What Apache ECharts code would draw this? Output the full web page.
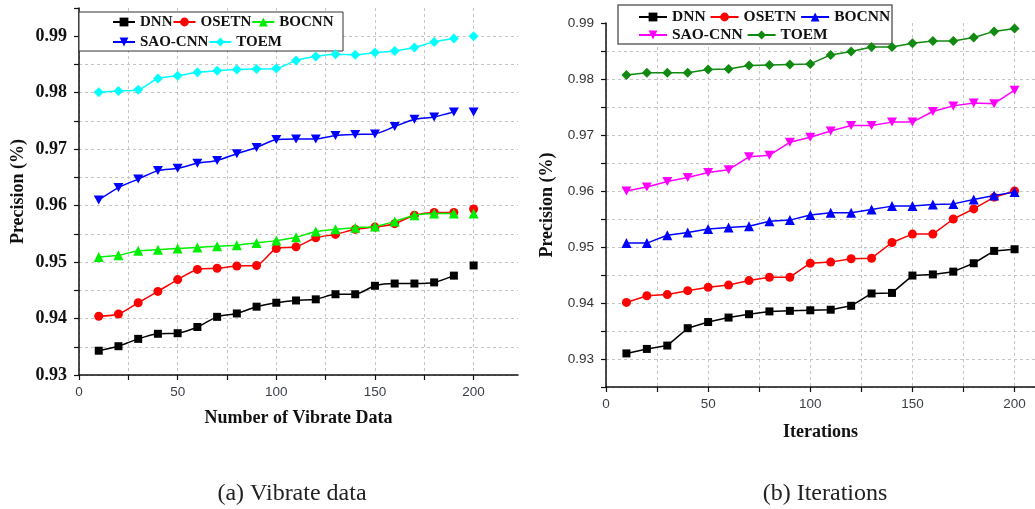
<!DOCTYPE html>
<html>
<head>
<meta charset="utf-8">
<script src="https://cdn.jsdelivr.net/npm/echarts@6/dist/echarts.min.js"></script>
<style>
  html, body { margin: 0; padding: 0; background: #fff; }
  #main { width: 1035px; height: 509px; }
</style>
</head>
<body>
<div id="main"></div>
<script>
const xVals = [10, 20, 30, 40, 50, 60, 70, 80, 90, 100, 110, 120, 130, 140, 150, 160, 170, 180, 190, 200];
const seriesNames = ["DNN", "OSETN", "BOCNN", "SAO-CNN", "TOEM"];
const yTickLabels = ["0.93", "0.94", "0.95", "0.96", "0.97", "0.98", "0.99"];

// (a) vibrate data
const dnnVib   = [0.9343, 0.9351, 0.9364, 0.9373, 0.9374, 0.9385, 0.9403, 0.9409, 0.9421, 0.9428, 0.9432, 0.9434, 0.9443, 0.9443, 0.9458, 0.9462, 0.9462, 0.9464, 0.9476, 0.9494];
const osetnVib = [0.9404, 0.9408, 0.9428, 0.9448, 0.9469, 0.9487, 0.9489, 0.9493, 0.9494, 0.9524, 0.9527, 0.9543, 0.9549, 0.9558, 0.9562, 0.9568, 0.9583, 0.9588, 0.9588, 0.9594];
const bocnnVib = [0.9509, 0.9512, 0.9520, 0.9522, 0.9524, 0.9526, 0.9528, 0.9530, 0.9534, 0.9538, 0.9544, 0.9554, 0.9558, 0.9561, 0.9563, 0.9572, 0.9583, 0.9586, 0.9586, 0.9586];
const saoVib   = [0.9610, 0.9632, 0.9647, 0.9662, 0.9666, 0.9675, 0.9680, 0.9692, 0.9703, 0.9717, 0.9718, 0.9718, 0.9724, 0.9726, 0.9727, 0.9740, 0.9753, 0.9757, 0.9766, 0.9766];
const toemVib  = [0.9801, 0.9803, 0.9805, 0.9825, 0.9830, 0.9836, 0.9839, 0.9841, 0.9842, 0.9843, 0.9857, 0.9864, 0.9868, 0.9867, 0.9871, 0.9874, 0.9880, 0.9890, 0.9896, 0.9900];

// (b) iterations
const dnnIter   = [0.9310, 0.9318, 0.9324, 0.9355, 0.9366, 0.9374, 0.9380, 0.9385, 0.9386, 0.9387, 0.9388, 0.9395, 0.9417, 0.9418, 0.9449, 0.9451, 0.9456, 0.9471, 0.9493, 0.9496];
const osetnIter = [0.9401, 0.9413, 0.9415, 0.9422, 0.9428, 0.9432, 0.9440, 0.9446, 0.9446, 0.9471, 0.9473, 0.9479, 0.9480, 0.9508, 0.9523, 0.9523, 0.9550, 0.9568, 0.9589, 0.9600];
const bocnnIter = [0.9507, 0.9507, 0.9521, 0.9526, 0.9532, 0.9535, 0.9537, 0.9546, 0.9548, 0.9557, 0.9561, 0.9561, 0.9567, 0.9573, 0.9573, 0.9576, 0.9577, 0.9585, 0.9592, 0.9598];
const saoIter   = [0.9600, 0.9607, 0.9617, 0.9624, 0.9633, 0.9638, 0.9661, 0.9664, 0.9687, 0.9696, 0.9707, 0.9717, 0.9717, 0.9723, 0.9723, 0.9742, 0.9752, 0.9757, 0.9756, 0.9780];
const toemIter  = [0.9807, 0.9811, 0.9811, 0.9811, 0.9817, 0.9818, 0.9824, 0.9825, 0.9826, 0.9827, 0.9843, 0.9849, 0.9857, 0.9857, 0.9864, 0.9868, 0.9868, 0.9874, 0.9885, 0.9890];

const SERIF = "'Liberation Serif', 'DejaVu Serif', serif";
const SANS = "'Liberation Sans', Arial, sans-serif";
const TRI_DOWN = "path://M0,0 L10,0 L5,9 Z";

const symbols = ["rect", "circle", "triangle", TRI_DOWN, "diamond"];
const sizes = [8, 9, 10, 10, 10];
const colorsA = ["#000000", "#ff0000", "#00ee00", "#0000ff", "#00ffff"];
const colorsB = ["#000000", "#ff0000", "#0000ff", "#ff00ff", "#108a10"];

// the 200 point of panel (a) is not joined to the rest of the line
function pairs(ys, splitLast) {
  const out = [];
  xVals.forEach((x, i) => {
    if (splitLast && i === xVals.length - 1) out.push([x - 5, null]);
    out.push([x, ys[i]]);
  });
  return out;
}

function yLabel(v) {
  const k = Math.round(v * 1000);
  if (k % 10 !== 0) return "";
  const s = (k / 1000).toFixed(2);
  return yTickLabels.includes(s) ? s : "";
}

function xLabel(v) {
  return (v % 50 === 0 && v <= 200) ? String(v) : "";
}

const gridLine = { show: true, showMaxLine: false, lineStyle: { color: "#c4c4c4", type: [3, 3], width: 1 } };

function xAxisFor(idx, max, name, nameGap) {
  return {
    type: "value", gridIndex: idx, min: 0, max: max, interval: 25,
    name: name, nameLocation: "middle", nameGap: nameGap,
    nameTextStyle: { fontFamily: SERIF, fontWeight: "bold", fontSize: 18, color: "#111" },
    axisLine: { show: true, onZero: false, lineStyle: { color: "#111", width: 1.5 } },
    axisTick: { show: true, inside: false, length: 5, lineStyle: { color: "#111", width: 1.2 } },
    axisLabel: { formatter: xLabel, showMaxLabel: false, margin: 10, fontFamily: SANS, fontSize: 13.5, color: "#3a3f4a" },
    splitLine: gridLine
  };
}

function yAxisFor(idx, min, max, nameGap, labelStyle) {
  return {
    type: "value", gridIndex: idx, min: min, max: max, interval: 0.005,
    name: "Precision (%)", nameLocation: "middle", nameGap: nameGap, nameRotate: 90,
    nameTextStyle: { fontFamily: SERIF, fontWeight: "bold", fontSize: 18, color: "#111" },
    axisLine: { show: true, onZero: false, lineStyle: { color: "#111", width: 1.5 } },
    axisTick: { show: true, inside: false, length: 5, lineStyle: { color: "#111", width: 1.2 } },
    axisLabel: Object.assign({ formatter: yLabel, showMaxLabel: true, margin: 12 }, labelStyle),
    splitLine: gridLine
  };
}

function makeSeries(dataSets, colors, idx, suffix, splitLast, smooth) {
  return dataSets.map((ys, i) => ({
    name: seriesNames[i] + suffix,
    type: "line",
    xAxisIndex: idx, yAxisIndex: idx,
    data: pairs(ys, splitLast),
    smooth: smooth,
    symbol: symbols[i], symbolSize: sizes[i], symbolKeepAspect: true,
    showAllSymbol: true,
    lineStyle: { color: colors[i], width: 1.5 },
    itemStyle: { color: colors[i] },
    z: 2 + i
  }));
}

function legendRow(names, left, top, itemWidth, itemGap, fontSize) {
  return {
    data: names, left: left, top: top, orient: "horizontal",
    padding: 0, itemGap: itemGap, itemWidth: itemWidth, itemHeight: 11,
    formatter: n => n.replace(" (b)", ""),
    textStyle: { fontFamily: SERIF, fontWeight: "bold", fontSize: fontSize, color: "#111", lineHeight: 16 },
    selectedMode: false, z: 6
  };
}

const chart = echarts.init(document.getElementById("main"), null, { renderer: "canvas" });

chart.setOption({
  backgroundColor: "#ffffff",
  animation: false,
  grid: [
    { left: 79, top: 8, width: 439, height: 367, containLabel: false },
    { left: 606, top: 23, width: 429, height: 364, containLabel: false }
  ],
  xAxis: [
    xAxisFor(0, 222.5, "Number of Vibrate Data", 34),
    xAxisFor(1, 210, "Iterations", 36)
  ],
  yAxis: [
    yAxisFor(0, 0.93, 0.995, 52, { fontFamily: SERIF, fontWeight: "bold", fontSize: 18, color: "#111" }),
    yAxisFor(1, 0.925, 0.99, 50, { fontFamily: SANS, fontSize: 13.5, color: "#333" })
  ],
  legend: [
    legendRow(["DNN", "OSETN", "BOCNN"], 112, 14, 22, 0, 15),
    legendRow(["SAO-CNN", "TOEM"], 112, 34, 22, 0, 15),
    legendRow(["DNN (b)", "OSETN (b)", "BOCNN (b)"], 638, 9, 28, 4, 15.5),
    legendRow(["SAO-CNN (b)", "TOEM (b)"], 638, 27, 28, 4, 15.5)
  ],
  graphic: [
    { type: "rect", z: 5, shape: { x: 79, y: 12, width: 264, height: 39 },
      style: { fill: "#fff", stroke: "#333", lineWidth: 1 } },
    { type: "rect", z: 5, shape: { x: 618, y: 5, width: 274, height: 39 },
      style: { fill: "#fff", stroke: "#666", lineWidth: 1.5 } },
    { type: "text", x: 292, y: 494, z: 5,
      style: { text: "(a) Vibrate data", fontFamily: SERIF, fontSize: 24, fill: "#222", align: "center", verticalAlign: "middle" } },
    { type: "text", x: 825, y: 494, z: 5,
      style: { text: "(b) Iterations", fontFamily: SERIF, fontSize: 24, fill: "#222", align: "center", verticalAlign: "middle" } }
  ],
  series: [].concat(
    makeSeries([dnnVib, osetnVib, bocnnVib, saoVib, toemVib], colorsA, 0, "", true, 0.25),
    makeSeries([dnnIter, osetnIter, bocnnIter, saoIter, toemIter], colorsB, 1, " (b)", false, false)
  )
});
</script>
</body>
</html>
